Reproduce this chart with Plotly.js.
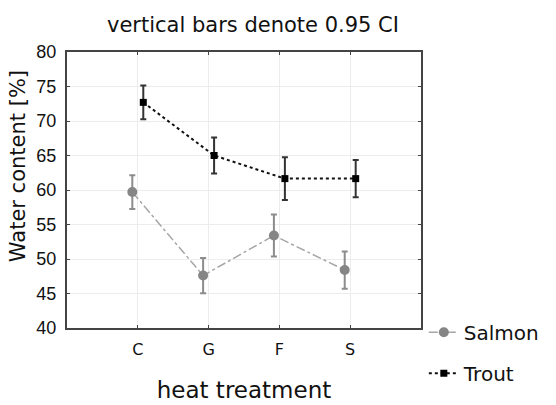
<!DOCTYPE html>
<html>
<head>
<meta charset="utf-8">
<script src="https://cdn.plot.ly/plotly-3.0.1.min.js"></script>
<style>html,body{margin:0;padding:0;background:#fff;}#chart{width:556px;height:405px;}</style>
</head>
<body>
<div id="chart"></div>
<script>
const treatments = ["C", "G", "F", "S"];
const salmonMean = [59.7, 47.6, 53.4, 48.4];
const salmonCI = [2.45, 2.55, 3.05, 2.7];
const troutMean = [72.7, 65.0, 61.65, 61.65];
const troutCI = [2.45, 2.6, 3.1, 2.7];
const yTicks = [40, 45, 50, 55, 60, 65, 70, 75, 80];
const yTitle = "Water content [%]";

const traces = [
  {
    type: "scatter", mode: "lines+markers", name: "Salmon",
    x: treatments, y: salmonMean, legendgroup: "s",
    line: {color: "#a6a6a6", width: 1.5, dash: "dashdot"},
    marker: {symbol: "circle", size: 10, color: "#858585"},
    error_y: {type: "data", array: salmonCI, visible: true, color: "#8c8c8c", thickness: 2, width: 3}
  },
  {
    type: "scatter", mode: "lines+markers", name: "Trout",
    x: treatments, y: troutMean, legendgroup: "t",
    line: {color: "#111111", width: 2, dash: "dot"},
    marker: {symbol: "square", size: 7, color: "#000000"},
    error_y: {type: "data", array: troutCI, visible: true, color: "#333333", thickness: 2, width: 3}
  }
];

const layout = {
  width: 556, height: 405,
  margin: {l: 67, r: 120, t: 52, b: 70},
  paper_bgcolor: "#ffffff", plot_bgcolor: "#ffffff",
  scattermode: "group", scattergap: 0.69,
  title: {text: "vertical bars denote 0.95 CI", x: 0.455, xanchor: "center", y: 0.94, yanchor: "middle",
          font: {family: "DejaVu Sans", size: 21, color: "#111"}},
  xaxis: {
    type: "category", range: [-1, 4],
    showline: true, linecolor: "#444", linewidth: 2, mirror: "ticks",
    ticks: "inside", ticklen: 3, tickcolor: "#444",
    showgrid: true, gridcolor: "#ececec", gridwidth: 1, zeroline: false,
    ticklabelstandoff: 6,
    tickfont: {family: "DejaVu Sans", size: 16, color: "#111"},
    title: {text: "heat treatment", font: {family: "DejaVu Sans", size: 23, color: "#111"}, standoff: 24}
  },
  yaxis: {
    range: [40, 80], tickvals: yTicks,
    showline: true, linecolor: "#444", linewidth: 2, mirror: "ticks",
    ticks: "inside", ticklen: 3, tickcolor: "#444",
    showgrid: true, gridcolor: "#ececec", gridwidth: 1, zeroline: false,
    ticklabelstandoff: 5,
    tickfont: {family: "Liberation Sans", size: 18, color: "#111"}
  },
  annotations: [
    {text: yTitle, xref: "paper", yref: "paper", x: -0.138, y: 0.587, xanchor: "center", yanchor: "middle",
     textangle: -90, showarrow: false, font: {family: "DejaVu Sans", size: 21, color: "#111"}}
  ],
  showlegend: true,
  legend: {x: 1.008, xanchor: "left", y: 0.055, yanchor: "top",
           font: {family: "DejaVu Sans", size: 20, color: "#111"},
           traceorder: "grouped", tracegroupgap: 12, itemwidth: 30,
           bgcolor: "rgba(0,0,0,0)"}
};

Plotly.newPlot("chart", traces, layout, {displayModeBar: false, staticPlot: true});
</script>
</body>
</html>
